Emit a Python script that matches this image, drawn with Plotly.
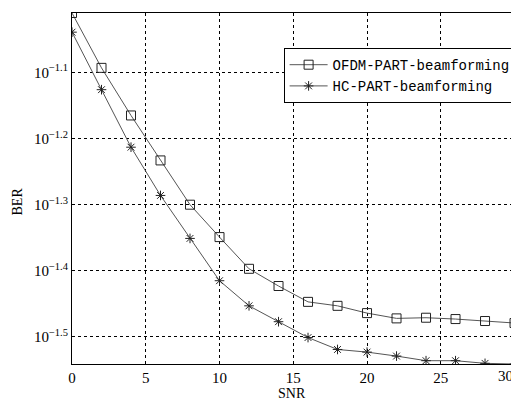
import plotly.graph_objects as go

snr = [0, 2, 4, 6, 8, 10, 12, 14, 16, 18, 20, 22, 24, 26, 28, 30]
ofdm_log = [-1.010, -1.093, -1.165, -1.233, -1.300, -1.349, -1.397, -1.423, -1.447,
            -1.453, -1.464, -1.472, -1.471, -1.473, -1.476, -1.479]
hc_log = [-1.039, -1.126, -1.213, -1.286, -1.351, -1.415, -1.453, -1.477, -1.501,
          -1.519, -1.523, -1.529, -1.536, -1.536, -1.540, -1.541]
ofdm_ber = [10 ** v for v in ofdm_log]
hc_ber = [10 ** v for v in hc_log]

ytick_exp = [-1.1, -1.2, -1.3, -1.4, -1.5]
ytick_text = ["10<sup>\u22121.1</sup>", "10<sup>\u22121.2</sup>", "10<sup>\u22121.3</sup>",
              "10<sup>\u22121.4</sup>", "10<sup>\u22121.5</sup>"]
xticks = [0, 5, 10, 15, 20, 25]
x_max = 29.76

line_col = "#555555"
fig = go.Figure()
fig.add_trace(go.Scatter(
    x=snr, y=ofdm_ber, mode="lines+markers", name="OFDM-PART-beamforming",
    line=dict(color=line_col, width=1),
    marker=dict(symbol="square-open", size=9, color="#222222", line=dict(width=1))))
fig.add_trace(go.Scatter(
    x=snr, y=hc_ber, mode="lines+markers", name="HC-PART-beamforming",
    line=dict(color=line_col, width=1),
    marker=dict(symbol="asterisk-open", size=8, color="#222222", line=dict(width=1, color="#222222"))))

fig.update_layout(
    width=511, height=399,
    margin=dict(l=72, r=0, t=13, b=35, autoexpand=False),
    paper_bgcolor="white", plot_bgcolor="white",
    font=dict(family="Liberation Serif", size=15, color="black"),
    legend=dict(x=0.482, y=0.9, xanchor="left", yanchor="top",
                bgcolor="white", bordercolor="black", borderwidth=1,
                font=dict(family="Liberation Mono", size=14, color="black"),
                tracegroupgap=0, itemwidth=38),
    xaxis=dict(range=[0, x_max], tickvals=xticks, showgrid=True, gridcolor="black",
               griddash="3px,3px", gridwidth=1, showline=True, linecolor="black",
               linewidth=1, mirror=True, ticks="", zeroline=False, automargin=False),
    yaxis=dict(type="log", range=[-1.541, -1.01], tickvals=[10 ** e for e in ytick_exp],
               ticktext=ytick_text, showgrid=True, gridcolor="black", griddash="3px,3px",
               gridwidth=1, showline=True, linecolor="black", linewidth=1, ticks="",
               zeroline=False, automargin=False),
)
fig.add_annotation(x=30 / x_max, y=0, xref="paper", yref="paper", text="30", showarrow=False,
                   yanchor="top", yshift=-2, font=dict(size=15))
fig.add_annotation(x=0.5, y=0, xref="paper", yref="paper", text="SNR", showarrow=False,
                   yanchor="middle", yshift=-29, font=dict(size=14))
fig.add_annotation(x=0, y=0.463, xref="paper", yref="paper", text="BER", showarrow=False,
                   textangle=-90, xanchor="center", xshift=-55, font=dict(size=14))
fig.write_html("out.html", config={"responsive": False, "displayModeBar": False},
               post_script="document.body.style.margin='0';document.body.style.overflow='hidden';")
